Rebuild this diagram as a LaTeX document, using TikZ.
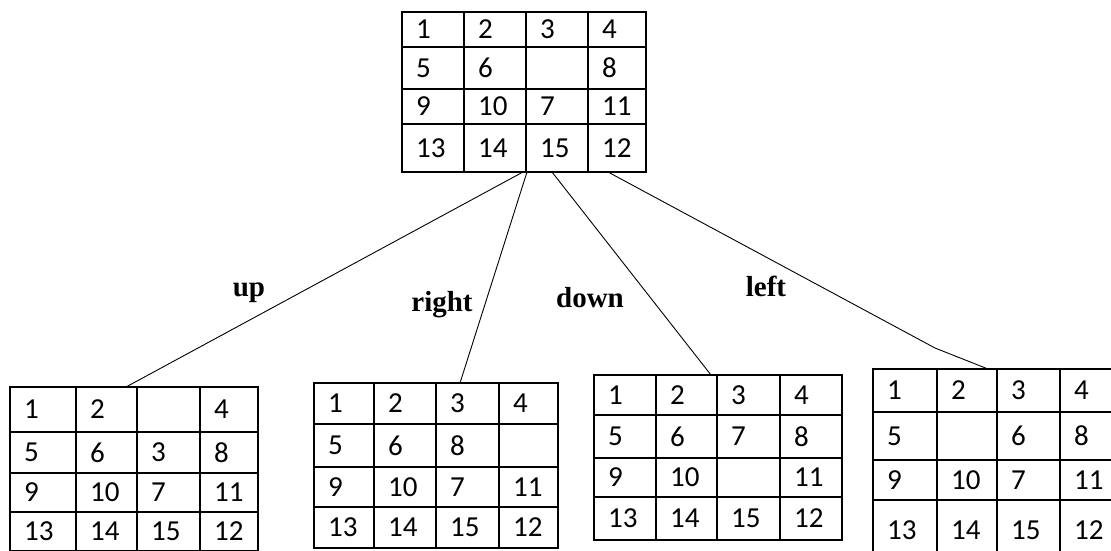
\documentclass[tikz,border=0pt]{standalone}
\usepackage{fontspec}
\setmainfont{Liberation Serif}
\newfontfamily\numfont{Carlito}
\usetikzlibrary{fit,calc}
\tikzset{
  cell/.style={draw=black, line width=1.8pt, inner sep=0pt, outer sep=0pt},
  num/.style={anchor=west, inner sep=0pt, font=\numfont\fontsize{29}{31}\selectfont},
  conn/.style={draw=black, line width=0.9pt},
  mv/.style={anchor=base, inner sep=0pt, font=\bfseries\fontsize{29}{31}\selectfont}
}
\newcommand\puzzle[4]{%
  \foreach \v [count=\i from 0] in {#4} {%
    \pgfmathtruncatemacro\r{int(\i/4)}%
    \pgfmathtruncatemacro\c{mod(\i,4)}%
    \pgfmathsetmacro\xl{{#2}[\c]}%
    \pgfmathsetmacro\xr{{#2}[\c+1]}%
    \pgfmathsetmacro\yt{{#3}[\r]}%
    \pgfmathsetmacro\yb{{#3}[\r+1]}%
    \node[cell, fit={(\xl,\yt)(\xr,\yb)}] (#1-\r-\c) {};
    \node[num] (#1-\r-\c-n) at ([xshift=14pt]#1-\r-\c.west) {\v};
  }%
}
\begin{document}
\begin{tikzpicture}[x=1pt,y=-1pt]
\useasboundingbox (0,0) rectangle (1111,550);
\fill[white] (0,0) rectangle (1111,550);
\clip (0,0) rectangle (1111,550);
% root state
\puzzle{T}{402,464,526,588,646}{12,47,89,124,172}{1,2,3,4,5,6,{},8,9,10,7,11,13,14,15,12}
% children
\puzzle{A}{10,76,137,200,258}{387,432,473,512,551}{1,2,{},4,5,6,3,8,9,10,7,11,13,14,15,12}
\puzzle{B}{314,374,436,499,558}{383,424,467,507,548}{1,2,3,4,5,6,8,{},9,10,7,11,13,14,15,12}
\puzzle{C}{594,656,717,780,842}{375,415,458,497,540}{1,2,3,4,5,6,7,8,9,10,{},11,13,14,15,12}
\puzzle{D}{873,937,997,1060,1125}{369,412,460,500,560}{1,2,3,4,5,{},6,8,9,10,7,11,13,14,15,12}
% connectors
\draw[conn] ([xshift=-3pt]T-3-1.south east) -- ([xshift=-11pt]A-0-1.north east);
\draw[conn] ([xshift=1pt]T-3-2.south west) -- ([xshift=24pt]B-0-2.north west);
\draw[conn] ([xshift=26pt]T-3-2.south west) -- ([xshift=-6pt]C-0-1.north east);
\coordinate (bend) at (935,348);
\draw[conn] ([xshift=20pt]T-3-3.south west) -- (bend) -- ([xshift=-9pt]D-0-1.north east);
% move labels
\node[mv] (lup) at (249,296) {up};
\node[mv] (lright) at (442,311) {right};
\node[mv] (ldown) at (590,307) {down};
\node[mv] (lleft) at (766,296) {left};
\end{tikzpicture}
\end{document}
